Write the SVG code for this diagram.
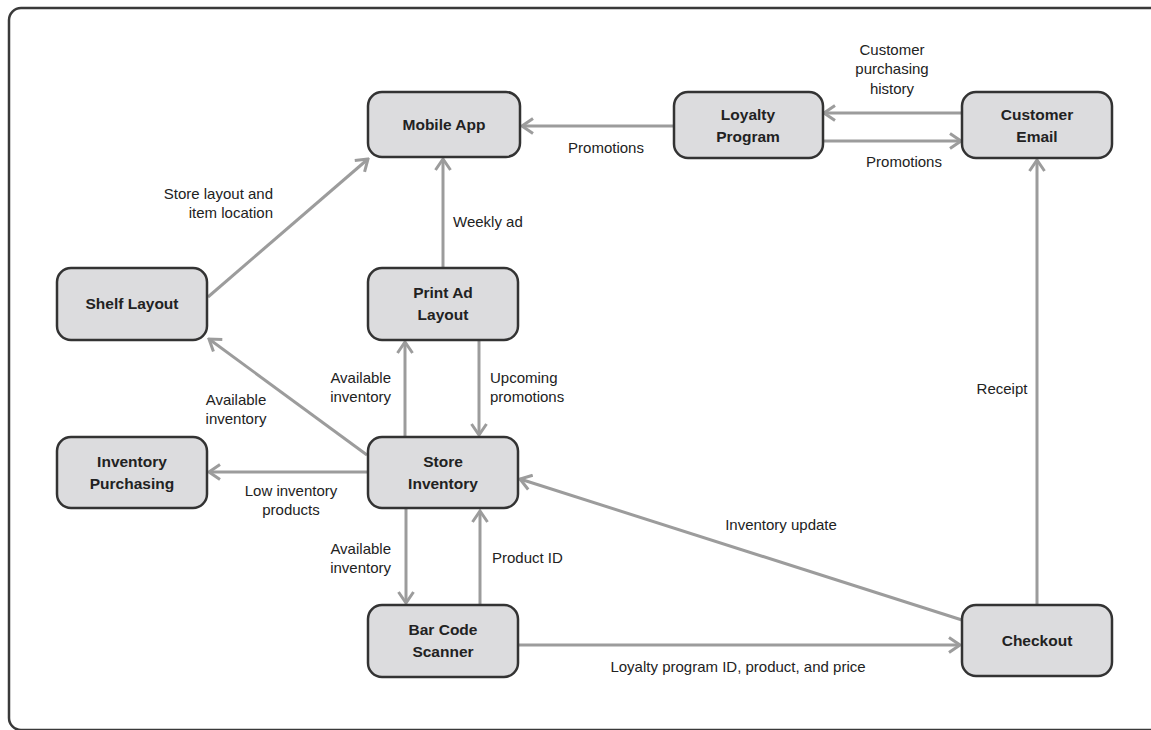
<svg xmlns="http://www.w3.org/2000/svg" width="1151" height="730" viewBox="0 0 1151 730">
<defs>
<style>
.node rect{fill:#dcdcde;stroke:#333;stroke-width:2.5}
.node text{font-family:"Liberation Sans",Arial,sans-serif;font-weight:bold;font-size:15.5px;fill:#222;text-anchor:middle}
.edge{stroke:#9c9c9c;stroke-width:3;fill:none;marker-end:url(#arr)}
.lbl{font-family:"Liberation Sans",Arial,sans-serif;font-size:15px;fill:#222}
</style>
<marker id="arr" markerUnits="userSpaceOnUse" viewBox="0 0 14 18" refX="12" refY="9" markerWidth="14" markerHeight="18" orient="auto">
<path d="M1,1.5 L12,9 L1,16.5" fill="none" stroke="#9c9c9c" stroke-width="3"/>
</marker>
</defs>
<rect x="9" y="8" width="1170" height="722" rx="12" fill="#fff" stroke="#3a3a3a" stroke-width="2.5"/>

<g id="connectors">
<line class="edge" x1="674" y1="126" x2="522" y2="126"/>
<line class="edge" x1="962" y1="113" x2="824" y2="113"/>
<line class="edge" x1="823" y1="141" x2="961" y2="141"/>
<line class="edge" x1="1037" y1="605" x2="1037" y2="160"/>
<line class="edge" x1="208" y1="297" x2="368" y2="159"/>
<line class="edge" x1="443" y1="268" x2="443" y2="159"/>
<line class="edge" x1="405" y1="437" x2="405" y2="342"/>
<line class="edge" x1="479" y1="340" x2="479" y2="435"/>
<line class="edge" x1="367" y1="455" x2="209" y2="339"/>
<line class="edge" x1="368" y1="472" x2="209" y2="472"/>
<line class="edge" x1="406" y1="509" x2="406" y2="603"/>
<line class="edge" x1="480" y1="605" x2="480" y2="511"/>
<line class="edge" x1="962" y1="620" x2="520" y2="479"/>
<line class="edge" x1="519" y1="645" x2="960" y2="645"/>
</g>

<g id="labels">
<text class="lbl" x="606" y="153" text-anchor="middle">Promotions</text>
<text class="lbl" x="892" y="55" text-anchor="middle">Customer</text>
<text class="lbl" x="892" y="74" text-anchor="middle">purchasing</text>
<text class="lbl" x="892" y="94" text-anchor="middle">history</text>
<text class="lbl" x="904" y="167" text-anchor="middle">Promotions</text>
<text class="lbl" x="1002" y="394" text-anchor="middle">Receipt</text>
<text class="lbl" x="273" y="199" text-anchor="end">Store layout and</text>
<text class="lbl" x="273" y="218" text-anchor="end">item location</text>
<text class="lbl" x="453" y="227">Weekly ad</text>
<text class="lbl" x="391" y="383" text-anchor="end">Available</text>
<text class="lbl" x="391" y="402" text-anchor="end">inventory</text>
<text class="lbl" x="490" y="383">Upcoming</text>
<text class="lbl" x="490" y="402">promotions</text>
<text class="lbl" x="236" y="405" text-anchor="middle">Available</text>
<text class="lbl" x="236" y="424" text-anchor="middle">inventory</text>
<text class="lbl" x="291" y="496" text-anchor="middle">Low inventory</text>
<text class="lbl" x="291" y="515" text-anchor="middle">products</text>
<text class="lbl" x="391" y="554" text-anchor="end">Available</text>
<text class="lbl" x="391" y="573" text-anchor="end">inventory</text>
<text class="lbl" x="492" y="563">Product ID</text>
<text class="lbl" x="781" y="530" text-anchor="middle">Inventory update</text>
<text class="lbl" x="738" y="672" text-anchor="middle">Loyalty program ID, product, and price</text>
</g>

<g id="mobile-app" class="node"><rect x="368" y="92" width="152" height="65" rx="14"/><text x="444" y="130">Mobile App</text></g>
<g id="loyalty-program" class="node"><rect x="674" y="92" width="149" height="66" rx="14"/><text x="748" y="120">Loyalty</text><text x="748" y="142">Program</text></g>
<g id="customer-email" class="node"><rect x="962" y="92" width="150" height="66" rx="14"/><text x="1037" y="120">Customer</text><text x="1037" y="142">Email</text></g>
<g id="shelf-layout" class="node"><rect x="57" y="268" width="150" height="72" rx="14"/><text x="132" y="309">Shelf Layout</text></g>
<g id="print-ad-layout" class="node"><rect x="368" y="268" width="150" height="72" rx="14"/><text x="443" y="298">Print Ad</text><text x="443" y="320">Layout</text></g>
<g id="inventory-purchasing" class="node"><rect x="57" y="437" width="150" height="71" rx="14"/><text x="132" y="467">Inventory</text><text x="132" y="489">Purchasing</text></g>
<g id="store-inventory" class="node"><rect x="368" y="437" width="150" height="71" rx="14"/><text x="443" y="467">Store</text><text x="443" y="489">Inventory</text></g>
<g id="bar-code-scanner" class="node"><rect x="368" y="605" width="150" height="72" rx="14"/><text x="443" y="635">Bar Code</text><text x="443" y="657">Scanner</text></g>
<g id="checkout" class="node"><rect x="962" y="605" width="150" height="71" rx="14"/><text x="1037" y="646">Checkout</text></g>
</svg>
